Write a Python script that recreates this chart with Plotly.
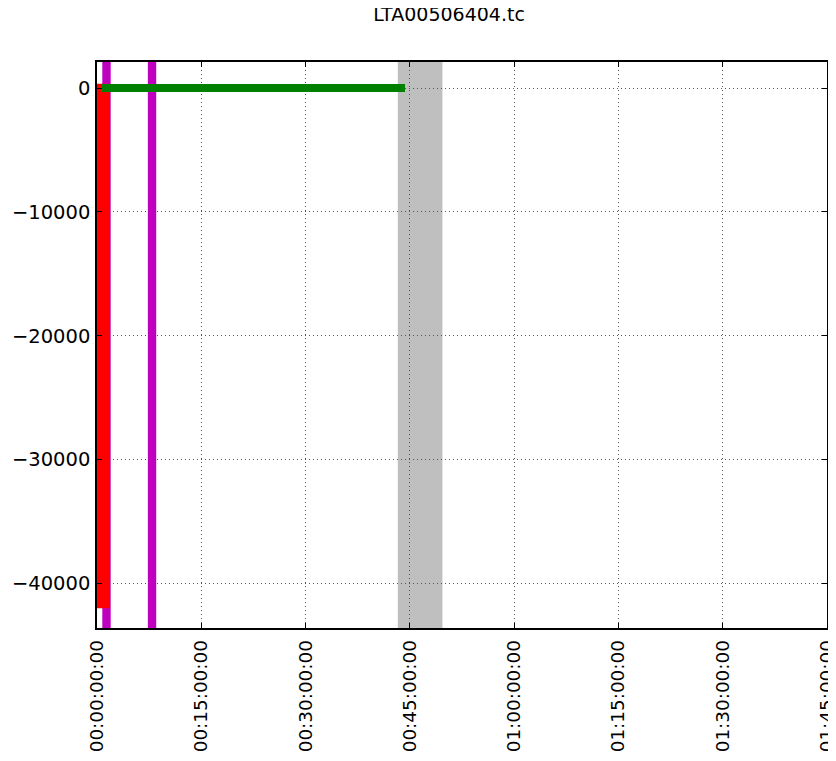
import plotly.graph_objects as go

# ---- data (time in seconds, value units) ----
title_text = "LTA00506404.tc"
x_tick_seconds = [0, 900, 1800, 2700, 3600, 4500, 5400, 6300]
x_tick_labels = ["00:00:00:00", "00:15:00:00", "00:30:00:00", "00:45:00:00",
                 "01:00:00:00", "01:15:00:00", "01:30:00:00", "01:45:00:00"]
y_tick_values = [0, -10000, -20000, -30000, -40000]
y_tick_labels = ["0", "\u221210000", "\u221220000", "\u221230000", "\u221240000"]
x_range = [0, 6300]
y_range = [-43600, 2100]

marker_times = [82, 475]                 # magenta vertical markers
band_start, band_end = 2596, 2981        # grey shaded interval
red_x = [56, 56]
red_y = [350, -42000]
green_x = [43, 2658]
green_y = [0, 0]

# page offset compensation (browser body margin)
OFF = 8

fig = go.Figure()

for t in marker_times:
    fig.add_trace(go.Scatter(x=[t, t], y=[y_range[1], y_range[0]], mode="lines",
                             line=dict(color="#BF00BF", width=8.4),
                             showlegend=False, hoverinfo="skip"))

fig.add_trace(go.Scatter(x=red_x, y=red_y, mode="lines",
                         line=dict(color="#FF0000", width=13),
                         showlegend=False, hoverinfo="skip"))
fig.add_trace(go.Scatter(x=green_x, y=green_y, mode="lines",
                         line=dict(color="#008000", width=8),
                         showlegend=False, hoverinfo="skip"))

fig.add_vrect(x0=band_start, x1=band_end, fillcolor="#BFBFBF", opacity=1,
              line_width=0, layer="below")

axis_common = dict(
    showline=True, linecolor="black", linewidth=1.5, mirror="allticks",
    ticks="inside", ticklen=5, tickcolor="black", tickwidth=1,
    showgrid=True, gridcolor="#555555", griddash="1px,3px", gridwidth=1,
    zeroline=False, layer="above traces", automargin=False,
)

fig.update_xaxes(range=x_range, tickmode="array", tickvals=x_tick_seconds,
                 ticktext=x_tick_labels, tickangle=-90, ticklabelstandoff=3,
                 tickfont=dict(family="DejaVu Sans", size=18.4, color="black"),
                 **axis_common)
fig.update_yaxes(range=y_range, tickmode="array", tickvals=y_tick_values,
                 ticktext=y_tick_labels, ticklabelstandoff=1,
                 tickfont=dict(family="DejaVu Sans", size=19.5, color="black"),
                 **axis_common)

fig.update_layout(
    width=836, height=761,
    margin=dict(l=97 - OFF, r=9 + OFF, t=62 - OFF, b=133 + OFF),
    paper_bgcolor="white", plot_bgcolor="white",
    title=dict(text=title_text, x=(449 - OFF) / 836, xanchor="center", xref="container",
               y=1, yanchor="top", yref="container",
               font=dict(family="DejaVu Sans", size=19, color="black")),
    font=dict(family="DejaVu Sans", size=19.5, color="black"),
)

fig.write_html("out.html")
